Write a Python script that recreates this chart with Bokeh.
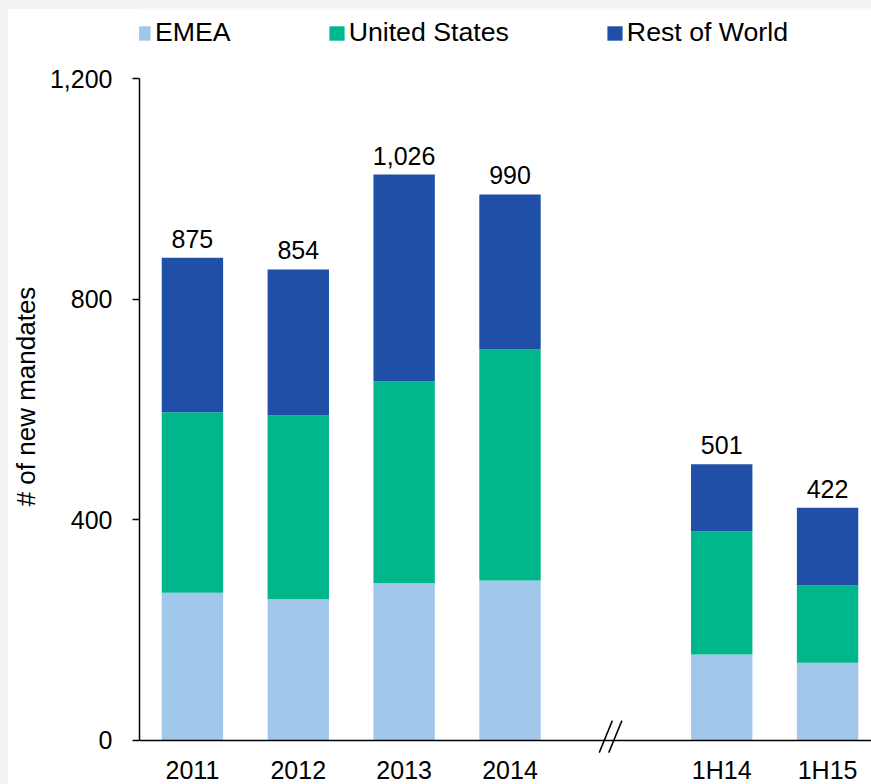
from bokeh.plotting import figure
from bokeh.models import (Range1d, FixedTicker, NumeralTickFormatter, Legend, LegendItem,
                          LabelSet, ColumnDataSource, Arrow, Span)
from bokeh.core.properties import value
from bokeh.embed import file_html
from bokeh.resources import INLINE

# ---- data ----
categories = ["2011", "2012", "2013", "2014", "1H14", "1H15"]
emea = [268, 256, 285, 290, 156, 141]
united_states = [327, 333, 366, 419, 223, 140]
rest_of_world = [280, 265, 375, 281, 122, 141]
totals = [875, 854, 1026, 990, 501, 422]
series_names = ["EMEA", "United States", "Rest of World"]
series_colors = ["#A1C8EA", "#00B68B", "#1F4FA7"]
y_ticks = [0, 400, 800, 1200]

# slot positions: a blank slot (the axis break) sits between 2014 and 1H14
gap_slot = 4
positions = [i if i < gap_slot else i + 1 for i in range(len(categories))]

src = ColumnDataSource(dict(
    x=positions,
    emea=emea,
    us=united_states,
    row=rest_of_world,
    total=totals,
    label=[f"{v:,}" for v in totals],
    zero=[0] * len(positions),
    cat=categories,
))

FONT = "Liberation Sans"

p = figure(width=864, height=776,
           min_border_left=131, min_border_right=0, min_border_top=0, min_border_bottom=0,
           x_range=Range1d(-0.5, 6.415), y_range=Range1d(-79.8, 1327),
           x_axis_location=None,
           output_backend="svg", toolbar_location=None)
p.outline_line_color = None
p.background_fill_color = "white"
p.border_fill_color = "white"
p.xgrid.visible = False
p.ygrid.visible = False

rs = p.vbar_stack(["emea", "us", "row"], x="x", width=0.58, source=src,
                  color=series_colors, line_color=None)

# baseline (category axis line)
p.add_layout(Span(location=0, dimension="width", line_color="black", line_width=1.5))

# category labels under the baseline
p.add_layout(LabelSet(x="x", y="zero", text="cat", source=src, text_align="center",
                      text_baseline="alphabetic", y_offset=-39, text_font=value(FONT),
                      text_font_size="25px", text_color="black"))

# totals above bars
p.add_layout(LabelSet(x="x", y="total", text="label", source=src, text_align="center",
                      text_baseline="alphabetic", y_offset=10, text_font=value(FONT),
                      text_font_size="25px", text_color="black"))

# y axis
ya = p.yaxis[0]
ya.bounds = (0, 1200)
ya.ticker = FixedTicker(ticks=y_ticks)
ya.formatter = NumeralTickFormatter(format="0,0")
ya.major_tick_out = 7
ya.major_tick_in = 0
ya.minor_tick_line_color = None
ya.axis_line_color = "black"
ya.axis_line_width = 1.5
ya.major_tick_line_width = 1.5
ya.major_label_standoff = 20
ya.major_label_text_font = FONT
ya.major_label_text_font_size = "25px"
ya.major_label_text_color = "black"
ya.axis_label = "# of new mandates"
ya.axis_label_text_font = FONT
ya.axis_label_text_font_size = "26px"
ya.axis_label_text_font_style = "normal"
ya.axis_label_text_color = "black"
ya.axis_label_standoff = 6

# axis break marker "//"
bx = gap_slot - 0.05
for off in (-0.045, 0.045):
    p.add_layout(Arrow(end=None, x_start=bx + off - 0.062, y_start=-22,
                       x_end=bx + off + 0.062, y_end=36,
                       line_color="black", line_width=1.5))

legend = Legend(items=[LegendItem(label=n, renderers=[r]) for n, r in zip(series_names, rs)],
                orientation="horizontal", location=(-6, 692 + 44),
                glyph_width=19, glyph_height=18, label_standoff=3, spacing=96,
                padding=0, margin=0, border_line_color=None, background_fill_alpha=0,
                label_text_font=FONT, label_text_font_size="26.7px", label_text_color="black")
p.add_layout(legend)

html = file_html(p, INLINE)
html = html.replace("<body>", '<body style="background-color:#f2f2f2; padding:8px 0 0 7px;">')
open("out.html", "w").write(html)
